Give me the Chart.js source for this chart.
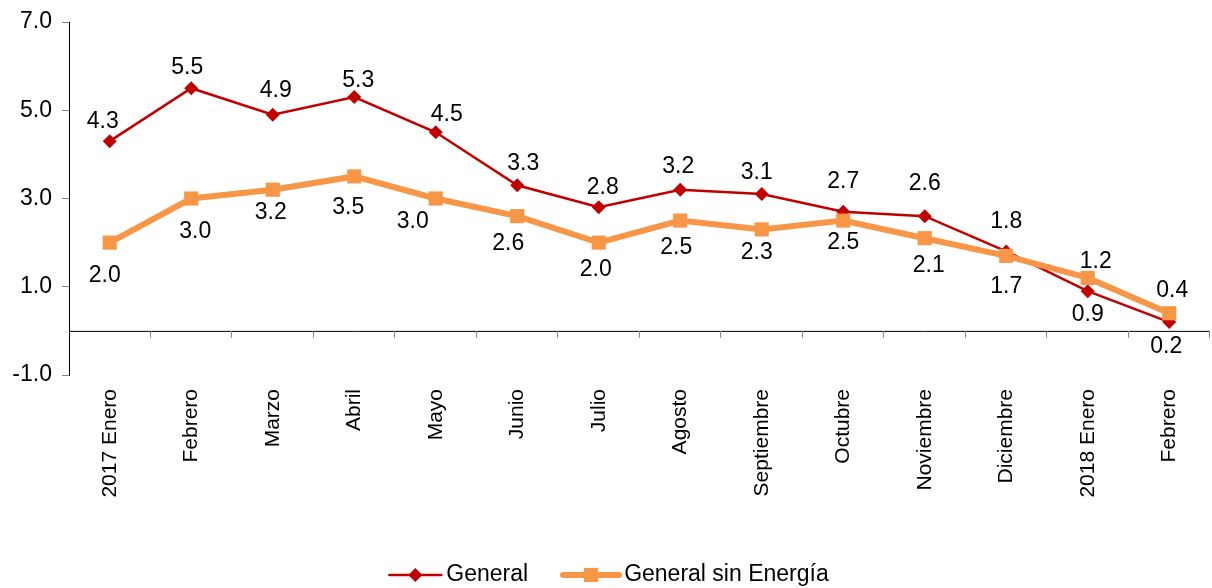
<!DOCTYPE html>
<html>
<head>
<meta charset="utf-8">
<title>General vs General sin Energía</title>
<script src="https://cdn.jsdelivr.net/npm/chart.js@4/dist/chart.umd.min.js"></script>
<style>
  html, body { margin: 0; padding: 0; background: #fff; }
  #wrap { width: 1212px; height: 588px; position: relative; }
</style>
</head>
<body>
<div id="wrap"><canvas id="chart"></canvas></div>
<script>
// data
const months = ["2017 Enero", "Febrero", "Marzo", "Abril", "Mayo", "Junio", "Julio",
  "Agosto", "Septiembre", "Octubre", "Noviembre", "Diciembre", "2018 Enero", "Febrero"];
const general = [4.3, 5.5, 4.9, 5.3, 4.5, 3.3, 2.8, 3.2, 3.1, 2.7, 2.6, 1.8, 0.9, 0.2];
const sinEnergia = [2.0, 3.0, 3.2, 3.5, 3.0, 2.6, 2.0, 2.5, 2.3, 2.5, 2.1, 1.7, 1.2, 0.4];
const yTicks = [-1, 1, 3, 5, 7];

// where each value label sits relative to its point (px)
const generalLabelDx = [-7, -4, 3, 4, 11, 6, 4, -2, -5, 0, 0, 0, 0, -3];
const generalLabelDy = [-19, -21, -24, -16, -18, -22, -20, -23, -21, -30, -32, -30, 23, 25];
const sinLabelDx = [-5, 4, -2, -6, -23, -9, -3, -4, -5, 0, 4, 0, 8, 3];
const sinLabelDy = [33, 33, 23, 31, 23, 28, 27, 27, 23, 22, 27, 31, -16, -23];

const FONT = "'Liberation Sans', Arial, sans-serif";
const RED = "#C00000";
const ORANGE = "#F79646";

// x axis sits at y = 0 with tick marks between categories
const zeroAxis = {
  id: "zeroAxis",
  beforeDatasetsDraw(chart) {
    const { ctx, chartArea, scales: { x, y } } = chart;
    const y0 = y.getPixelForValue(0);
    ctx.save();
    ctx.strokeStyle = "#000";
    ctx.lineWidth = 1;
    ctx.beginPath();
    ctx.moveTo(chartArea.left, y0 + 0.5);
    ctx.lineTo(chartArea.right, y0 + 0.5);
    ctx.stroke();
    ctx.strokeStyle = "#888";
    ctx.beginPath();
    for (let i = 0; i < months.length; i++) {
      const bx = Math.round(x.getPixelForValue(i + 0.5)) - 0.5;
      ctx.moveTo(bx, y0);
      ctx.lineTo(bx, y0 + 7);
    }
    ctx.stroke();
    ctx.restore();
  }
};

const valueLabels = {
  id: "valueLabels",
  afterDatasetsDraw(chart) {
    const ctx = chart.ctx;
    const offs = [[generalLabelDx, generalLabelDy], [sinLabelDx, sinLabelDy]];
    ctx.save();
    ctx.font = "23px " + FONT;
    ctx.fillStyle = "#000";
    ctx.textAlign = "center";
    ctx.textBaseline = "middle";
    chart.data.datasets.forEach((ds, di) => {
      const meta = chart.getDatasetMeta(di);
      meta.data.forEach((pt, i) => {
        ctx.fillText(ds.data[i].toFixed(1), pt.x + offs[di][0][i], pt.y + offs[di][1][i]);
      });
    });
    ctx.restore();
  }
};

// legend: line + marker, drawn at the bottom
const lineLegend = {
  id: "lineLegend",
  afterDraw(chart) {
    const ctx = chart.ctx;
    const cy = 575;
    ctx.save();
    ctx.font = "23px " + FONT;
    ctx.textBaseline = "middle";
    const items = chart.data.datasets.map(ds => ({
      ds, w: ctx.measureText(ds.label).width, len: ds.label === "General" ? 52 : 56
    }));
    const gap = 5, between = 35;
    let total = 0;
    items.forEach((it, i) => { total += it.len + gap + it.w + (i ? between : 0); });
    let x = chart.width / 2 - total / 2 + 3;
    items.forEach((it, i) => {
      if (i) x += between;
      ctx.strokeStyle = it.ds.borderColor;
      ctx.lineWidth = it.ds.borderWidth;
      ctx.lineCap = "round";
      ctx.beginPath();
      ctx.moveTo(x, cy);
      ctx.lineTo(x + it.len, cy);
      ctx.stroke();
      ctx.fillStyle = it.ds.borderColor;
      ctx.beginPath();
      const r = it.ds.pointRadius;
      const mx = x + it.len / 2;
      if (it.ds.pointStyle === "rect") {
        const s = r * Math.SQRT1_2;
        ctx.fillRect(mx - s, cy - s, 2 * s, 2 * s);
      } else {
        ctx.moveTo(mx, cy - r);
        ctx.lineTo(mx + r, cy);
        ctx.lineTo(mx, cy + r);
        ctx.lineTo(mx - r, cy);
        ctx.closePath();
        ctx.fill();
      }
      x += it.len + gap;
      ctx.fillStyle = "#000";
      ctx.fillText(it.ds.label, x, cy);
      x += it.w;
    });
    ctx.restore();
  }
};

new Chart(document.getElementById("chart"), {
  type: "line",
  data: {
    labels: months,
    datasets: [
      {
        label: "General",
        data: general,
        borderColor: RED,
        backgroundColor: RED,
        borderWidth: 2.5,
        pointStyle: "rectRot",
        pointRadius: 7,
        pointBorderWidth: 0,
        order: 1
      },
      {
        label: "General sin Energía",
        data: sinEnergia,
        borderColor: ORANGE,
        backgroundColor: ORANGE,
        borderWidth: 6,
        pointStyle: "rect",
        pointRadius: 10,
        pointBorderWidth: 0,
        order: 0
      }
    ]
  },
  options: {
    responsive: true,
    maintainAspectRatio: false,
    animation: false,
    layout: { autoPadding: false, padding: { top: 22, right: 2, left: 0, bottom: 0 } },
    plugins: {
      legend: { display: false },
      tooltip: { enabled: false }
    },
    scales: {
      x: {
        offset: true,
        afterFit: s => { s.height = 213; s.paddingLeft = 0; s.paddingRight = 0; },
        grid: { display: false },
        border: { display: false },
        ticks: {
          autoSkip: false,
          maxRotation: 90,
          minRotation: 90,
          padding: 6,
          color: "#000",
          font: { size: 21, family: FONT }
        }
      },
      y: {
        min: yTicks[0],
        max: yTicks[yTicks.length - 1],
        afterFit: s => { s.width = 69; s.paddingTop = 0; s.paddingBottom = 0; },
        afterBuildTicks: s => { s.ticks = yTicks.map(v => ({ value: v })); },
        grid: { drawOnChartArea: false, tickLength: 7, color: "#888" },
        border: { color: "#000", width: 1 },
        ticks: {
          padding: 10,
          color: "#000",
          font: { size: 23, family: FONT },
          callback: v => Number(v).toFixed(1)
        }
      }
    }
  },
  plugins: [zeroAxis, valueLabels, lineLegend]
});
</script>
</body>
</html>
